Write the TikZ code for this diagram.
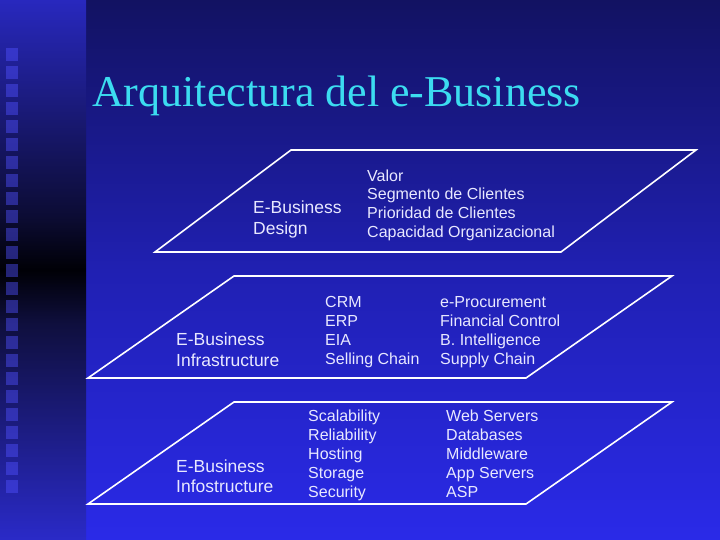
\documentclass[tikz,border=0pt]{standalone}
\usepackage{fontspec}
\setmainfont{Liberation Serif}
\newfontfamily\bodyfont{Liberation Sans}
\definecolor{titlecol}{RGB}{60,220,240}
\definecolor{txtcol}{RGB}{232,232,255}
\definecolor{sqcol}{RGB}{80,80,255}
\definecolor{mbA}{RGB}{42,42,240}
\definecolor{mbB}{RGB}{42,42,232}
\definecolor{mbC}{RGB}{32,32,178}
\definecolor{mbD}{RGB}{18,18,98}
\definecolor{mbE}{RGB}{6,6,34}
\definecolor{sbA}{RGB}{50,50,245}
\definecolor{sbB}{RGB}{42,42,200}
\definecolor{sbC}{RGB}{15,15,62}
\definecolor{sbD}{RGB}{0,0,6}
\definecolor{sbE}{RGB}{12,12,52}
\definecolor{sbF}{RGB}{40,40,190}
\definecolor{sbG}{RGB}{58,58,240}
\pgfdeclareverticalshading{mainbg}{100bp}{color(0bp)=(mbA); color(25bp)=(mbB); color(50bp)=(mbC); color(75bp)=(mbD); color(100bp)=(mbE)}
\pgfdeclareverticalshading{stripbg}{100bp}{color(0bp)=(sbA); color(25bp)=(sbB); color(45bp)=(sbC); color(50bp)=(sbD); color(55bp)=(sbE); color(75bp)=(sbF); color(100bp)=(sbG)}
\begin{document}
\begin{tikzpicture}[x=1pt,y=-1pt,
  plane/.style={draw=white, line width=1.6pt, line join=miter},
  lbl/.style={font=\bodyfont\fontsize{17.5}{21}\selectfont, text=txtcol, anchor=base west, inner sep=0pt},
  item/.style={font=\bodyfont\fontsize{16}{19}\selectfont, text=txtcol, anchor=base west, inner sep=0pt},
  ttl/.style={font=\fontsize{44}{50}\selectfont, text=titlecol, anchor=base west, inner sep=0pt},
  sq/.style={fill=sqcol, opacity=0.45}]
\useasboundingbox (0,0) rectangle (720,540);
\shade[shading=mainbg] (86,0) rectangle (720,540);
\shade[shading=stripbg] (0,0) rectangle (86,540);
\foreach \k in {0,...,24} \fill[sq] (6,48+18*\k) rectangle ++(12,13);

\node[ttl] (title) at (92,106.7) {Arquitectura del e-Business};

% planes
\draw[plane] (155,252) -- (291,150) -- (696,150) -- (561,252) -- cycle;
\draw[plane] (88,378) -- (234,276) -- (672,276) -- (526,378) -- cycle;
\draw[plane] (88,504) -- (234,402) -- (672,402) -- (526,504) -- cycle;

% plane 1
\node[lbl] (d1) at (253,213.3) {E-Business};
\node[lbl] (d2) at (253,234) {Design};
\foreach \t [count=\i] in {Valor, Segmento de Clientes, Prioridad de Clientes, Capacidad Organizacional}
  \node[item] (v\i) at (367,163+18.5*\i) {\t};

% plane 2
\node[lbl] (i1) at (176,345.5) {E-Business};
\node[lbl] (i2) at (176,366) {Infrastructure};
\foreach \t [count=\i] in {CRM, ERP, EIA, Selling Chain}
  \node[item] (c\i) at (325,288.5+19*\i) {\t};
\foreach \t [count=\i] in {e-Procurement, Financial Control, B. Intelligence, Supply Chain}
  \node[item] (e\i) at (440,288.5+19*\i) {\t};

% plane 3
\node[lbl] (f1) at (176,472) {E-Business};
\node[lbl] (f2) at (176,492.5) {Infostructure};
\foreach \t [count=\i] in {Scalability, Reliability, Hosting, Storage, Security}
  \node[item] (s\i) at (308,402+19*\i) {\t};
\foreach \t [count=\i] in {Web Servers, Databases, Middleware, App Servers, ASP}
  \node[item] (w\i) at (446,402+19*\i) {\t};
\end{tikzpicture}
\end{document}
